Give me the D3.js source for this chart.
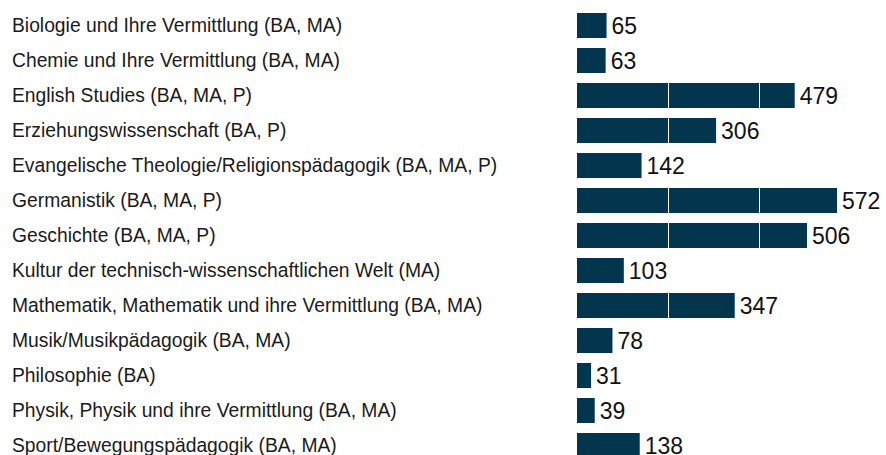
<!DOCTYPE html>
<html>
<head>
<meta charset="utf-8">
<script src="https://cdn.jsdelivr.net/npm/d3@7/dist/d3.min.js"></script>
<style>
  body { margin: 0; background: #fff; }
  svg { display: block; font-family: "Liberation Sans", Arial, sans-serif; }
</style>
</head>
<body>
<svg width="886" height="455"></svg>
<script>
var subjects = [
  "Biologie und Ihre Vermittlung (BA, MA)",
  "Chemie und Ihre Vermittlung (BA, MA)",
  "English Studies (BA, MA, P)",
  "Erziehungswissenschaft (BA, P)",
  "Evangelische Theologie/Religionspädagogik (BA, MA, P)",
  "Germanistik (BA, MA, P)",
  "Geschichte (BA, MA, P)",
  "Kultur der technisch-wissenschaftlichen Welt (MA)",
  "Mathematik, Mathematik und ihre Vermittlung (BA, MA)",
  "Musik/Musikpädagogik (BA, MA)",
  "Philosophie (BA)",
  "Physik, Physik und ihre Vermittlung (BA, MA)",
  "Sport/Bewegungspädagogik (BA, MA)"
];
var students = [65, 63, 479, 306, 142, 572, 506, 103, 347, 78, 31, 39, 138];
var gridTicks = [200, 400];

window.onload = function() {
  var svg = d3.select("svg");
  var data = subjects.map(function(s, i) { return {name: s, value: students[i]}; });

  var x = d3.scaleLinear()
      .domain([0, 572])
      .range([577, 837]);

  var y = d3.scaleBand()
      .domain(subjects)
      .range([13, 458])
      .paddingInner(10 / 35)
      .paddingOuter(0);

  var color = "#03354e";

  // category labels
  svg.append("g")
    .selectAll("text")
    .data(data)
    .enter().append("text")
      .attr("x", 12)
      .attr("y", function(d) { return y(d.name) + y.bandwidth() / 2; })
      .attr("dy", "0.35em")
      .attr("font-size", 19.3)
      .attr("fill", "#1a1a1a")
      .text(function(d) { return d.name; });

  // bars
  svg.append("g")
    .selectAll("rect")
    .data(data)
    .enter().append("rect")
      .attr("x", x(0))
      .attr("y", function(d) { return y(d.name); })
      .attr("width", function(d) { return x(d.value) - x(0); })
      .attr("height", y.bandwidth())
      .attr("fill", color);

  // white grid segments inside bars
  var segs = [];
  data.forEach(function(d) {
    gridTicks.forEach(function(t) { if (t < d.value) segs.push({name: d.name, t: t}); });
  });
  svg.append("g")
    .selectAll("line")
    .data(segs)
    .enter().append("line")
      .attr("x1", function(d) { return Math.round(x(d.t)) + 0.5; })
      .attr("x2", function(d) { return Math.round(x(d.t)) + 0.5; })
      .attr("y1", function(d) { return y(d.name); })
      .attr("y2", function(d) { return y(d.name) + y.bandwidth(); })
      .attr("stroke", "#fff")
      .attr("stroke-width", 1);

  // value labels
  svg.append("g")
    .selectAll("text")
    .data(data)
    .enter().append("text")
      .attr("x", function(d) { return x(d.value) + 5; })
      .attr("y", function(d) { return y(d.name) + y.bandwidth() / 2; })
      .attr("dy", "0.35em")
      .attr("font-size", 23)
      .attr("fill", "#111")
      .text(function(d) { return d.value; });
};
</script>
</body>
</html>
